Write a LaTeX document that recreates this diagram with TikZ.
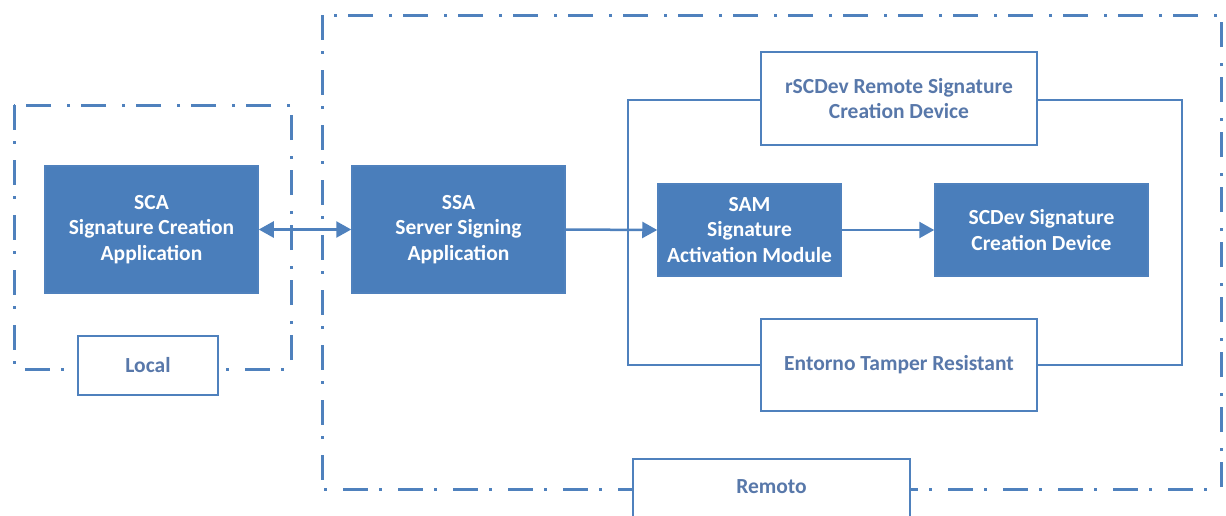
\documentclass[tikz,border=0pt]{standalone}
\usepackage{fontspec}
\setmainfont{Carlito}
\usepackage{tikz}
\usetikzlibrary{arrows.meta,positioning}
\definecolor{accent}{RGB}{79,129,189}
\definecolor{boxfill}{RGB}{74,126,187}
\definecolor{txtblue}{RGB}{88,120,170}
\tikzset{
  blk/.style={draw=accent,fill=boxfill,line width=1.5pt,align=center,
              text=white,font=\bfseries\fontsize{21.5}{25.5}\selectfont,inner sep=0pt},
  wbox/.style={draw=accent,fill=white,line width=2pt,align=center,
               text=txtblue,font=\bfseries\fontsize{21.5}{25.5}\selectfont,inner sep=0pt},
  zone/.style={draw=accent,line width=3pt,
               dash pattern=on 25pt off 11pt on 3pt off 16pt},
  flow/.style={-{Triangle[length=15pt,width=16pt]},line width=2.5pt,draw=accent},
  flowb/.style={flow,{Triangle[length=15pt,width=16pt]}-{Triangle[length=15pt,width=16pt]}},
  tamper/.style={draw=accent,line width=2pt},
}

\begin{document}
\begin{tikzpicture}[x=1pt,y=-1pt]
  \useasboundingbox (0,0) rectangle (1226,515);

  % zonas local y remoto
  \draw[zone] (14,105) rectangle (291,369);
  \draw[zone] (322,15) rectangle (1221,489);

  % entorno tamper resistant: marco que pasa por las dos cajas blancas
  \draw[tamper] (628,100) rectangle (1182,365);

  \node[blk,minimum width=213,minimum height=127] (sca) at (151.5,229.5)
    {SCA\\Signature Creation\\Application};
  \node[blk,minimum width=213,minimum height=127] (ssa) at (458.5,229.5)
    {SSA\\Server Signing\\Application};
  \node[blk,minimum width=183,minimum height=92] (sam) at (749.5,230)
    {SAM\\Signature\\Activation Module};
  \node[blk,minimum width=213,minimum height=92] (scdev) at (1041.5,230)
    {SCDev Signature\\Creation Device};

  \node[wbox,minimum width=276,minimum height=93] (rscdev) at (899,98.5)
    {rSCDev Remote Signature\\Creation Device};
  \node[wbox,minimum width=276,minimum height=92] (entorno) at (899,365)
    {Entorno Tamper Resistant};

  \node[wbox,minimum width=140,minimum height=59] (local) at (148,365.5) {Local};
  \node[wbox,minimum width=277,minimum height=70,anchor=north] (remoto) at (771.5,458)
    {\raisebox{14pt}{Remoto}};

  % flujo de la firma
  \draw[flowb] (sca.east) -- (ssa.west);
  \draw[flow] (ssa.east) -- (sam.west);
  \draw[flow] (sam.east) -- (scdev.west);
\end{tikzpicture}
\end{document}
